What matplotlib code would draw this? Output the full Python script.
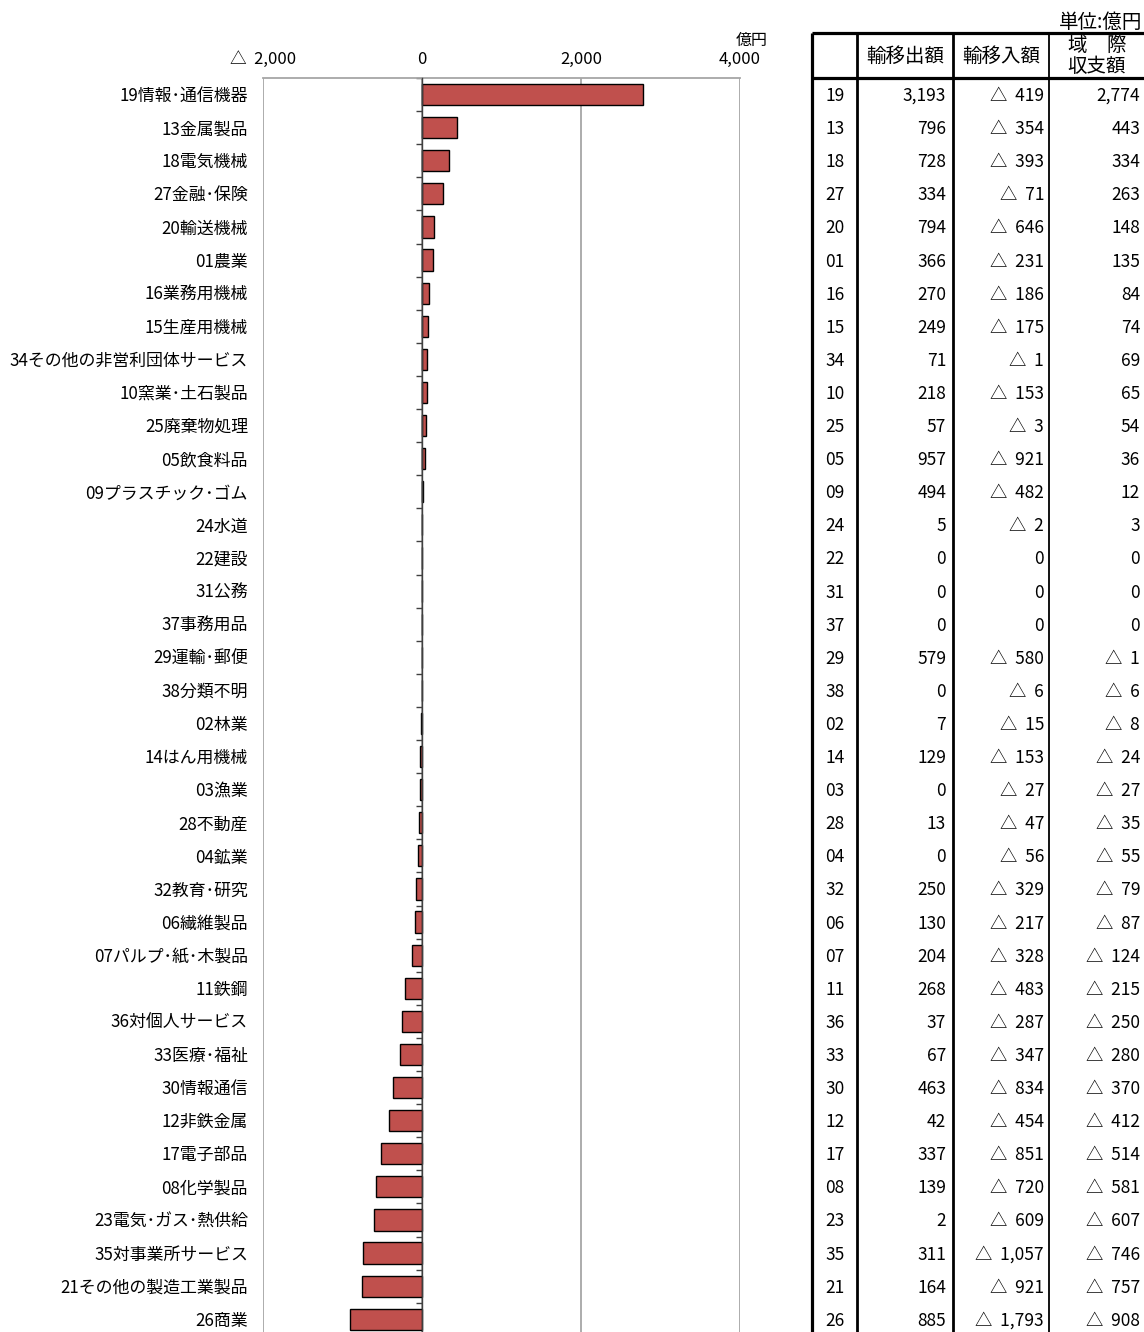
import numpy as np
import matplotlib

matplotlib.use("Agg")
import matplotlib.pyplot as plt  # noqa: E402
from matplotlib.transforms import blended_transform_factory, offset_copy  # noqa: E402

plt.rcParams["font.family"] = ["Noto Sans CJK JP", "DejaVu Sans"]

# 産業部門（コード付き）と域際収支（億円）
CODES = ["19", "13", "18", "27", "20", "01", "16", "15", "34", "10",
         "25", "05", "09", "24", "22", "31", "37", "29", "38", "02",
         "14", "03", "28", "04", "32", "06", "07", "11", "36", "33",
         "30", "12", "17", "08", "23", "35", "21", "26"]
SECTORS = ["情報･通信機器", "金属製品", "電気機械", "金融･保険", "輸送機械",
           "農業", "業務用機械", "生産用機械", "その他の非営利団体サービス",
           "窯業･土石製品", "廃棄物処理", "飲食料品", "プラスチック･ゴム",
           "水道", "建設", "公務", "事務用品", "運輸･郵便", "分類不明",
           "林業", "はん用機械", "漁業", "不動産", "鉱業", "教育･研究",
           "繊維製品", "パルプ･紙･木製品", "鉄鋼", "対個人サービス",
           "医療･福祉", "情報通信", "非鉄金属", "電子部品", "化学製品",
           "電気･ガス･熱供給", "対事業所サービス", "その他の製造工業製品",
           "商業"]
EXPORTS = [3193, 796, 728, 334, 794, 366, 270, 249, 71, 218,
           57, 957, 494, 5, 0, 0, 0, 579, 0, 7,
           129, 0, 13, 0, 250, 130, 204, 268, 37, 67,
           463, 42, 337, 139, 2, 311, 164, 885]
IMPORTS = [-419, -354, -393, -71, -646, -231, -186, -175, -1, -153,
           -3, -921, -482, -2, 0, 0, 0, -580, -6, -15,
           -153, -27, -47, -56, -329, -217, -328, -483, -287, -347,
           -834, -454, -851, -720, -609, -1057, -921, -1793]
BALANCE = [2774, 443, 334, 263, 148, 135, 84, 74, 69, 65,
           54, 36, 12, 3, 0, 0, 0, -1, -6, -8,
           -24, -27, -35, -55, -79, -87, -124, -215, -250, -280,
           -370, -412, -514, -581, -607, -746, -757, -908]
X_TICKS = [-2000, 0, 2000, 4000]

W, H = 1144, 1332
TOP = 78          # px, top of plot area / bottom of table header
ROW_H = 33.1      # px per row
N_ROWS = 39       # axis runs on past the bottom edge of the page
BAR_COLOR = "#C0504D"
GRID_COLOR = "#A6A6A6"


def fmt(v):
    if v < 0:
        return f"△  {-v:,}"
    return f"{v:,}"


def row_y(i):
    return TOP + (i + 0.5) * ROW_H + 1.5


fig = plt.figure(figsize=(W / 100, H / 100), dpi=100)

# ---------------------------------------------------------------------------
# bar chart
# ---------------------------------------------------------------------------
ax_h = N_ROWS * ROW_H
ax = fig.add_axes([263 / W, 1 - (TOP + ax_h) / H, 477 / W, ax_h / H])
rows = np.arange(len(BALANCE))
ax.barh(rows, BALANCE, height=0.64, color=BAR_COLOR,
        edgecolor="black", linewidth=1.0, zorder=3)
ax.set_xlim(-2000, 4000)
ax.set_ylim(N_ROWS - 0.5, -0.5)

ax.xaxis.tick_top()
ax.set_xticks(X_TICKS)
ax.set_xticklabels([fmt(v) for v in X_TICKS], fontsize=12)
ax.tick_params(axis="x", length=0, pad=7)
ax.xaxis.grid(True, color=GRID_COLOR, linewidth=1.3, zorder=0)

# category axis sits on zero, with boundary ticks
ax.spines["left"].set_position(("data", 0))
ax.spines["left"].set_color("#404040")
ax.spines["left"].set_linewidth(1.0)
ax.spines["left"].set_zorder(4)
ax.set_yticks(np.arange(-0.5, N_ROWS - 0.5, 1.0))
ax.set_yticklabels([])
ax.tick_params(axis="y", length=4, width=1.0, color="#404040")
ax.spines["top"].set_color(GRID_COLOR)
ax.spines["top"].set_linewidth(1.3)
for s in ("right", "bottom"):
    ax.spines[s].set_visible(False)

trans = offset_copy(blended_transform_factory(ax.transAxes, ax.transData),
                    fig=fig, y=-1.5, units="dots")
for i, (c, s) in enumerate(zip(CODES, SECTORS)):
    ax.text(-15 / 477, i, c + s, transform=trans, ha="right", va="center",
            fontsize=12.2)

ax.text(1.0 + 12 / 477, 1.0 + 38 / ax_h, "億円", transform=ax.transAxes,
        ha="center", va="center", fontsize=11.5)

# ---------------------------------------------------------------------------
# table on the right (pixel coordinates)
# ---------------------------------------------------------------------------
tab = fig.add_axes([0, 0, 1, 1], facecolor="none")
tab.set_xlim(0, W)
tab.set_ylim(H, 0)
tab.axis("off")

tab.text(1142, 22, "単位:億円", ha="right", va="center", fontsize=14)

for x, lw in ((812, 2.3), (857, 2.0), (953, 2.0), (1049, 1.3)):
    tab.plot([x, x], [33, H], color="black", linewidth=lw,
             solid_capstyle="butt")
for y in (33, TOP):
    tab.plot([812, W], [y, y], color="black", linewidth=2.3,
             solid_capstyle="butt")

tab.text(905, 56, "輸移出額", ha="center", va="center", fontsize=14)
tab.text(1001, 56, "輸移入額", ha="center", va="center", fontsize=14)
tab.text(1097, 45, "域　際", ha="center", va="center", fontsize=14)
tab.text(1097, 67, "収支額", ha="center", va="center", fontsize=14)

for i in range(len(CODES)):
    y = row_y(i)
    tab.text(835, y, CODES[i], ha="center", va="center", fontsize=12.5)
    tab.text(946, y, fmt(EXPORTS[i]), ha="right", va="center", fontsize=12.5)
    tab.text(1044, y, fmt(IMPORTS[i]), ha="right", va="center", fontsize=12.5)
    tab.text(1140, y, fmt(BALANCE[i]), ha="right", va="center", fontsize=12.5)

fig.savefig("out.png", dpi=100)
